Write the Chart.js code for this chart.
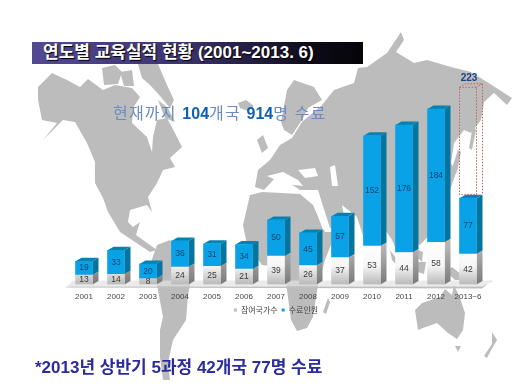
<!DOCTYPE html>
<html lang="ko">
<head>
<meta charset="utf-8">
<title>연도별 교육실적 현황</title>
<script src="https://cdn.jsdelivr.net/npm/chart.js@4"></script>
<style>
  html, body { margin: 0; padding: 0; background: #fff; }
  #wrap { position: relative; width: 514px; height: 392px; overflow: hidden; filter: blur(0.35px);
          font-family: "Liberation Sans", "Noto Sans CJK KR", sans-serif; }
  canvas { position: absolute; left: 0; top: 0; }
  .head { position: absolute; left: 32px; top: 42px; width: 331px; height: 22px; box-sizing: border-box; padding-left: 11px;
          background: linear-gradient(90deg, #544a94 0%, #3c3470 45%, #0c0a18 85%, #050508 100%);
          color: #fff; font-weight: bold; font-size: 17px; line-height: 21px; white-space: nowrap;
          text-shadow: 1px 1px 1px #000; }
  .sub { position: absolute; left: 113px; top: 105px; font-size: 16px; line-height: 18px; color: #6b8cc0; white-space: nowrap; letter-spacing: 1.2px; }
  .sub b { color: #0f5fb4; font-size: 16px; letter-spacing: 0; }
  .note { position: absolute; left: 35px; top: 358px; font-size: 17px; line-height: 20px; font-weight: bold; color: #2b2b9c; white-space: nowrap; }
</style>
</head>
<body>
<div id="wrap">
  <canvas id="chart" width="514" height="392"></canvas>
  <div class="head">연도별 교육실적 현황 (2001~2013. 6)</div>
  <div class="sub">현재까지 <b>104</b>개국 <b>914</b>명 수료</div>
  <div class="note">*2013년 상반기 5과정 42개국 77명 수료</div>
</div>
<script>
const years = ['2001','2002','2003','2004','2005','2006','2007','2008','2009','2010','2011','2012','2013~6'];
const countries = [13,14,8,24,25,21,39,26,37,53,44,58,42];
const graduates = [19,33,20,36,31,34,50,45,57,152,176,184,77];
// dotted outline on top of the last bar, label says 223
const dotted = [null,null,null,null,null,null,null,null,null,null,null,null,153];
const dottedLabels = [null,null,null,null,null,null,null,null,null,null,null,null,'223'];

// background world map, rough outlines in page pixels
const land = [
  // north america
  [[38,87],[52,73],[67,80],[80,87],[88,79],[103,90],[115,85],[132,88],[140,97],[133,108],[132,123],[147,137],[152,152],[153,137],[157,120],[167,118],[177,137],[182,147],[170,158],[175,167],[163,170],[157,183],[148,197],[152,212],[147,205],[130,210],[128,222],[133,227],[140,222],[136,235],[157,250],[150,252],[120,232],[108,212],[103,198],[95,183],[95,162],[87,143],[75,122],[63,120],[43,140],[57,123],[42,120],[38,100]],
  // arctic islands
  [[102,68],[115,65],[122,72],[118,84],[104,85]],
  [[120,72],[132,70],[134,86],[124,86]],
  [[138,64],[158,64],[167,85],[174,100],[170,108],[160,96],[150,85],[142,78]],
  [[158,100],[168,108],[175,122],[165,118]],
  // iceland, uk
  [[238,103],[246,100],[254,106],[248,111],[240,108]],
  [[257,140],[263,135],[268,148],[262,153]],
  // south america
  [[157,245],[170,240],[185,255],[192,275],[188,295],[186,320],[173,340],[168,363],[170,380],[163,380],[160,357],[160,330],[163,317],[157,285],[150,265]],
  // scandinavia
  [[287,90],[294,80],[314,87],[322,100],[308,108],[302,120],[292,135],[284,130],[281,122]],
  // eurasia
  [[270,160],[280,145],[292,138],[302,122],[322,105],[334,90],[354,83],[358,68],[367,67],[387,53],[401,32],[404,40],[396,52],[414,63],[427,60],[451,67],[471,72],[487,82],[512,98],[507,105],[494,93],[484,102],[481,120],[471,133],[464,130],[454,143],[451,163],[456,173],[451,187],[445,205],[434,230],[420,245],[405,235],[400,258],[392,240],[382,225],[372,215],[365,242],[357,217],[342,205],[345,222],[330,228],[322,203],[318,190],[300,190],[285,180],[275,178],[264,190],[255,187],[258,170]],
  // africa
  [[250,195],[262,192],[300,194],[313,205],[325,232],[336,232],[325,260],[318,285],[313,317],[307,328],[297,331],[291,320],[287,290],[283,268],[262,265],[247,245],[243,225]],
  // sakhalin, japan
  [[473,125],[476,130],[472,150],[469,148]],
  [[453,165],[458,150],[461,152],[457,172],[446,180],[445,177]],
  // madagascar
  [[328,298],[330,302],[326,314],[323,312]],
  // islands south east asia
  [[390,250],[396,258],[408,272],[403,272],[392,260]],
  [[418,250],[423,252],[422,262],[418,258]],
  [[418,262],[426,262],[424,274],[418,272]],
  [[446,272],[452,267],[462,275],[470,280],[455,280]],
  // australia
  [[415,310],[422,303],[440,297],[445,289],[452,295],[454,285],[460,298],[465,313],[463,330],[457,339],[448,333],[437,323],[423,328],[418,330]],
  [[455,346],[461,346],[458,352]],
  // new zealand
  [[492,332],[497,340],[490,352],[487,358],[484,356],[492,344]]
];
const water = [
  [[267,176],[283,172],[298,180],[303,186],[285,184]],
  [[298,170],[315,168],[318,176],[305,178]],
  [[330,167],[335,165],[338,186],[332,186]],
  [[310,194],[314,194],[327,228],[323,230]]
];

const canvas = document.getElementById('chart');
const ctx = canvas.getContext('2d');

const whiteFront = ctx.createLinearGradient(0, 245, 0, 283);
whiteFront.addColorStop(0, '#ffffff');
whiteFront.addColorStop(0.55, '#f6f6f6');
whiteFront.addColorStop(1, '#bdbdbd');
const graySide = ctx.createLinearGradient(0, 245, 0, 283);
graySide.addColorStop(0, '#b8b8b8');
graySide.addColorStop(1, '#7c7c7c');

const DX = 6, DY = 3.5;

function poly(c, pts, fill) {
  c.fillStyle = fill;
  c.beginPath();
  pts.forEach((p, i) => i ? c.lineTo(p[0], p[1]) : c.moveTo(p[0], p[1]));
  c.closePath();
  c.fill();
}

const mapPlugin = {
  id: 'map',
  beforeDraw(chart) {
    const c = chart.ctx;
    c.save();
    land.forEach(p => poly(c, p, '#bcbcbc'));
    water.forEach(p => poly(c, p, '#ffffff'));
    c.restore();
  }
};

const boxPlugin = {
  id: 'box3d',
  beforeDatasetsDraw(chart) {
    const c = chart.ctx;
    const a = chart.chartArea;
    const base = chart.scales.y.getPixelForValue(0);
    c.save();
    // floor
    poly(c, [[a.left - 3, base + 3], [a.left + 5, base - 4], [a.right + 8, base - 4], [a.right - 2, base + 2], [a.left + 3, base + 2]], 'rgba(226,226,226,0.7)');
    poly(c, [[a.left - 3, base + 3], [a.right - 2, base + 4], [a.right - 2, base + 2], [a.left + 3, base + 2]], '#bfbfbf');
    poly(c, [[a.right - 2, base + 4], [a.right + 8, base - 4], [a.right + 8, base - 3], [a.right - 2, base + 2]], '#c4c4c4');
    // side and top faces
    [[0, graySide, '#e4e4e4'], [1, '#05759f', '#0583ae']].forEach(([d, sideCol, topCol]) => {
      chart.getDatasetMeta(d).data.forEach(bar => {
        const l = bar.x - bar.width / 2, r = bar.x + bar.width / 2;
        poly(c, [[r, bar.y], [r + DX, bar.y - DY], [r + DX, bar.base - DY], [r, bar.base]], sideCol);
        poly(c, [[l, bar.y], [l + DX, bar.y - DY], [r + DX, bar.y - DY], [r, bar.y]], topCol);
      });
    });
    c.restore();
  },
  afterDatasetsDraw(chart) {
    const c = chart.ctx;
    c.save();
    c.textAlign = 'center';
    c.textBaseline = 'middle';
    c.font = '8.5px "Liberation Sans"';
    chart.getDatasetMeta(0).data.forEach((bar, i) => {
      c.fillStyle = '#3a3a3a';
      c.fillText(countries[i], bar.x, (bar.y + bar.base) / 2);
    });
    chart.getDatasetMeta(1).data.forEach((bar, i) => {
      c.fillStyle = '#0d4470';
      c.fillText(graduates[i], bar.x, (bar.y + bar.base) / 2);
    });
    // dotted box with its label
    chart.getDatasetMeta(2).data.forEach((bar, i) => {
      if (dotted[i] == null) return;
      const l = bar.x - bar.width / 2, r = bar.x + bar.width / 2;
      c.strokeStyle = '#c2625f';
      c.lineWidth = 1;
      c.setLineDash([1.5, 1.5]);
      c.strokeRect(l, bar.y, r - l, bar.base - bar.y - DY);
      c.beginPath();
      c.moveTo(l, bar.y); c.lineTo(l + DX, bar.y - DY); c.lineTo(r + DX, bar.y - DY); c.lineTo(r, bar.y);
      c.moveTo(r + DX, bar.y - DY); c.lineTo(r + DX, bar.base - DY);
      c.stroke();
      c.setLineDash([]);
      c.fillStyle = '#1f3f86';
      c.font = 'bold 10px "Liberation Sans"';
      c.fillText(dottedLabels[i], bar.x + 1, bar.y - 9);
    });
    c.restore();
  }
};

new Chart(ctx, {
  type: 'bar',
  data: {
    labels: years,
    datasets: [
      { label: '참여국가수', data: countries, backgroundColor: whiteFront, stack: 's' },
      { label: '수료인원', data: graduates, backgroundColor: '#0aa2e6', stack: 's' },
      { label: '', data: dotted, backgroundColor: 'rgba(0,0,0,0)', stack: 's' }
    ]
  },
  options: {
    responsive: false,
    animation: false,
    layout: { padding: { left: 68, right: 30, top: 67, bottom: 68 } },
    datasets: { bar: { barThickness: 17 } },
    scales: {
      x: {
        stacked: true,
        grid: { display: false },
        border: { display: false },
        ticks: { color: '#444', font: { size: 8, family: '"Liberation Sans"' }, padding: 0, autoSkip: false, maxRotation: 0 }
      },
      y: { stacked: true, display: false, min: 0, max: 300 }
    },
    plugins: {
      title: { display: false },
      tooltip: { enabled: false },
      legend: {
        position: 'bottom',
        labels: {
          filter: item => item.text !== '',
          color: '#444',
          font: { size: 8, family: '"Noto Sans CJK KR"' },
          boxWidth: 3,
          boxHeight: 3,
          padding: 4
        }
      }
    }
  },
  plugins: [mapPlugin, boxPlugin]
});
</script>
</body>
</html>
